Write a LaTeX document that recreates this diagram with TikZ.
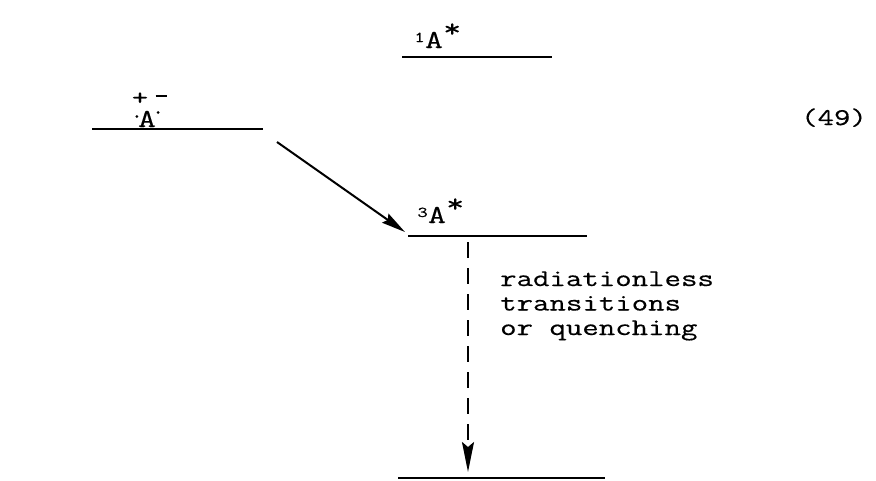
\documentclass[tikz,border=0pt]{standalone}
\usepackage{fontspec}
\setmonofont[FakeStretch=1.33,FakeBold=0.5]{Latin Modern Mono}
\usetikzlibrary{arrows.meta}
\begin{document}
\begin{tikzpicture}[x=1pt,y=-1pt,
  level/.style={line width=2pt},
  txt/.style={font=\ttfamily\fontsize{24}{24.5}\selectfont, inner sep=0pt},
  bigtxt/.style={font=\ttfamily\fontsize{26}{26}\selectfont, inner sep=0pt},
  smalltxt/.style={font=\ttfamily\fontsize{15}{15}\selectfont, inner sep=0pt},
  conn/.style={line width=2pt}]
\useasboundingbox (0,0) rectangle (876,480);
% levels
\coordinate (La) at (92,129);  \coordinate (Lb) at (263,129);
\coordinate (Sa) at (402,57);  \coordinate (Sb) at (552,57);
\coordinate (Ta) at (408,236); \coordinate (Tb) at (587,236);
\coordinate (Ga) at (398,478); \coordinate (Gb) at (605,478);
\draw[level] (La) -- (Lb);
\draw[level] (Sa) -- (Sb);
\draw[level] (Ta) -- (Tb);
\draw[level] (Ga) -- (Gb);
% labels
\node[bigtxt, anchor=base] (LA) at (147,127) {A};
\fill (LA.north west) ++(-1,6) circle (1.5);
\fill (LA.north east) ++(2,2) circle (1.5);
\node[txt, anchor=base] (Lplus) at (140,105) {+};
\node[txt, anchor=base] (Lminus) at (161,97) {\rule{11pt}{1.6pt}};
\node[bigtxt, anchor=base] (SA) at (434,48) {A};
\node[smalltxt, anchor=base east] (S1) at (SA.base west) {\raisebox{6pt}{1}};
\node[bigtxt, anchor=base west] (Sst) at (SA.base east) {\raisebox{11pt}{*}};
\node[bigtxt, anchor=base] (TA) at (437,223) {A};
\node[smalltxt, anchor=base east] (T3) at (TA.base west) {\raisebox{6pt}{3}};
\node[bigtxt, anchor=base west] (Tst) at (TA.base east) {\raisebox{11pt}{*}};
\node[txt, anchor=base] (eq) at (834,125) {(49)};
% connectors
\coordinate (arrS) at (277,142);
\coordinate (arrE) at (405,232);
\draw[conn, -{Stealth[length=24pt,width=11pt,inset=3pt]}] (arrS) -- (arrE);
\coordinate (dS) at (468,242);
\coordinate (dE) at (468,472);
\draw[conn, dash pattern=on 16pt off 10pt, -{Stealth[length=30pt,width=12pt,inset=5pt]}] (dS) -- (dE);
\node[txt, anchor=base west, align=left] (note) at (500,335) {radiationless\\transitions\\or quenching};
\end{tikzpicture}
\end{document}
